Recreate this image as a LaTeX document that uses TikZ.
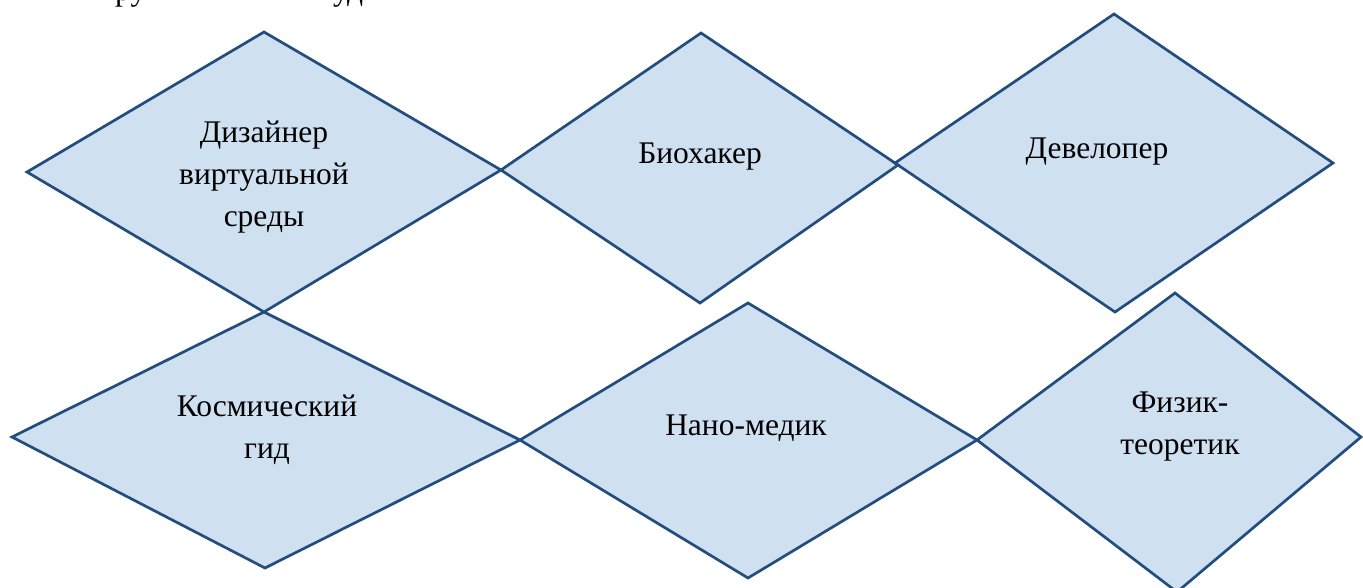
\documentclass[tikz,border=0pt]{standalone}
\usepackage{fontspec}
\setmainfont{Liberation Serif}
\definecolor{dfillc}{RGB}{207,224,241}
\definecolor{dlinec}{RGB}{35,77,125}
\tikzset{
  dfill/.style={fill=dfillc},
  dline/.style={draw=dlinec, line width=2.7pt, line join=miter},
  lbl/.style={font=\fontsize{31.5}{42}\selectfont, align=center, inner sep=0pt},
  frag/.style={font=\fontsize{31.5}{42}\selectfont, anchor=base west, inner sep=0pt}
}
\begin{document}
\begin{tikzpicture}[x=1pt,y=-1pt]
\useasboundingbox (0,0) rectangle (1363,587);
% diamond vertices: left, top, right, bottom
\coordinate (aL) at (27,172);  \coordinate (aT) at (264,32);  \coordinate (aR) at (501,170); \coordinate (aB) at (264,312);
\coordinate (bL) at (501,170); \coordinate (bT) at (701,33);  \coordinate (bR) at (898,165); \coordinate (bB) at (700,303);
\coordinate (cL) at (895,163); \coordinate (cT) at (1114,14); \coordinate (cR) at (1333,163);\coordinate (cB) at (1115,312);
\coordinate (dL) at (12,437);  \coordinate (dT) at (264,312); \coordinate (dR) at (520,440); \coordinate (dB) at (265,568);
\coordinate (eL) at (520,440); \coordinate (eT) at (748,303); \coordinate (eR) at (977,440); \coordinate (eB) at (748,578);
\coordinate (fL) at (977,440); \coordinate (fT) at (1175,293);\coordinate (fR) at (1361,437);\coordinate (fB) at (1177,592);
% fills
\foreach \p in {a,b,c,d,e,f}{
  \path[dfill] (\p L) -- (\p T) -- (\p R) -- (\p B) -- cycle;
}
% outlines
\foreach \p in {a,b,c,d,e,f}{
  \path[dline] (\p L) -- (\p T) -- (\p R) -- (\p B) -- cycle;
}
% labels
\node[lbl] (t1) at (264,177) {Дизайнер\\виртуальной\\среды};
\node[lbl] (t2) at (700,157) {Биохакер};
\node[lbl] (t3) at (1097,152) {Девелопер};
\node[lbl] (t4) at (267,430) {Космический\\гид};
\node[lbl] (t5) at (746,428) {Нано-медик};
\node[lbl] (t6) at (1180,427) {Физик-\\теоретик};
% cut-off heading fragments at the top edge
\node[frag] (h1) at (115,0) {ру};
\node[frag] (h2) at (333,0) {уд};
\end{tikzpicture}
\end{document}
